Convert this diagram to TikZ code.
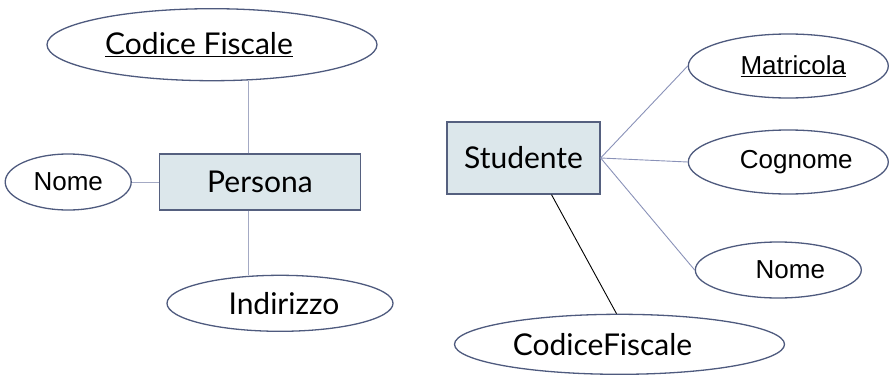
\documentclass[tikz,border=0pt]{standalone}
\usepackage{fontspec}
\setmainfont{Lato}
\newfontfamily\arialfont{Liberation Sans}
\usepackage{xcolor}
\usetikzlibrary{positioning,shapes.geometric}

\definecolor{entfill}{HTML}{DCE7EB}
\definecolor{entline}{HTML}{55607F}
\definecolor{attline}{HTML}{4E5A7E}
\definecolor{linkline}{HTML}{A4AAC4}
\definecolor{linkright}{HTML}{8A92B8}

\newcommand{\gillsize}{\fontsize{30}{34}\selectfont}
\newcommand{\arialsize}{\arialfont\fontsize{26}{30}\selectfont}

\begin{document}
\begin{tikzpicture}[x=1pt, y=-1pt]
            \tikzstyle{entity} = [draw=entline, fill=entfill, line width=1.3pt, inner sep=0pt, font=\gillsize]
            \tikzstyle{attr} = [ellipse, draw=attline, line width=1.3pt, inner sep=0pt]
            \tikzstyle{link} = [draw=linkline, line width=0.9pt]
            \useasboundingbox (0,0) rectangle (889,375);

            % Persona
            \node [entity, minimum width=201pt, minimum height=56pt] (Persona) at (260,182) {Persona};
            \node [attr, minimum width=330pt, minimum height=72pt, above = 72pt of Persona, xshift=-48pt, font=\gillsize] (CF) {\underline{Codice Fiscale}\hspace*{26pt}};
            \node [attr, minimum width=126pt, minimum height=56pt, left = 27pt of Persona, font=\arialsize] (Nome) {Nome};
            \node [attr, minimum width=226pt, minimum height=56pt, below = 64pt of Persona, xshift=20pt, font=\gillsize] (Ind) {\hspace*{8pt}Indirizzo};

            \coordinate (p1) at ([xshift=-12pt]Persona.north);
            \coordinate (p2) at ([xshift=-12pt]Persona.south);
            \draw [link] (p1) to (p1 |- CF.south);
            \draw [link] (p2) to (p2 |- Ind.north);
            \draw [link] (Nome.east) to (Persona.west);

            % Studente
            \node [entity, minimum width=153pt, minimum height=72pt] (Studente) at (523.5,158) {Studente};
            \node [attr, minimum width=200pt, minimum height=64pt, right = 87pt of Studente, yshift=92pt, font=\arialsize] (Matr) {\hspace*{10pt}\underline{Matricola}};
            \node [attr, minimum width=200pt, minimum height=64pt, right = 87pt of Studente, yshift=-4pt, font=\arialsize] (Cogn) {\hspace*{16pt}Cognome};
            \node [attr, minimum width=166pt, minimum height=56pt, right = 94pt of Studente, yshift=-112pt, font=\arialsize] (Nome2) {\hspace*{24pt}Nome};
            \node [attr, minimum width=330pt, minimum height=60pt, below = 119pt of Studente, xshift=96pt, font=\gillsize] (CF2) {CodiceFiscale\hspace*{34pt}};

            \draw [link, draw=linkright] (Studente.east) to (Matr.west);
            \draw [link, draw=linkright] (Studente.east) to (Cogn.west);
            \draw [link, draw=linkright] (Studente.east) to (Nome2.west);
            \draw [line width=0.9pt] ([xshift=28pt]Studente.south) to ([xshift=-3pt]CF2.north);
        \end{tikzpicture}
\end{document}
